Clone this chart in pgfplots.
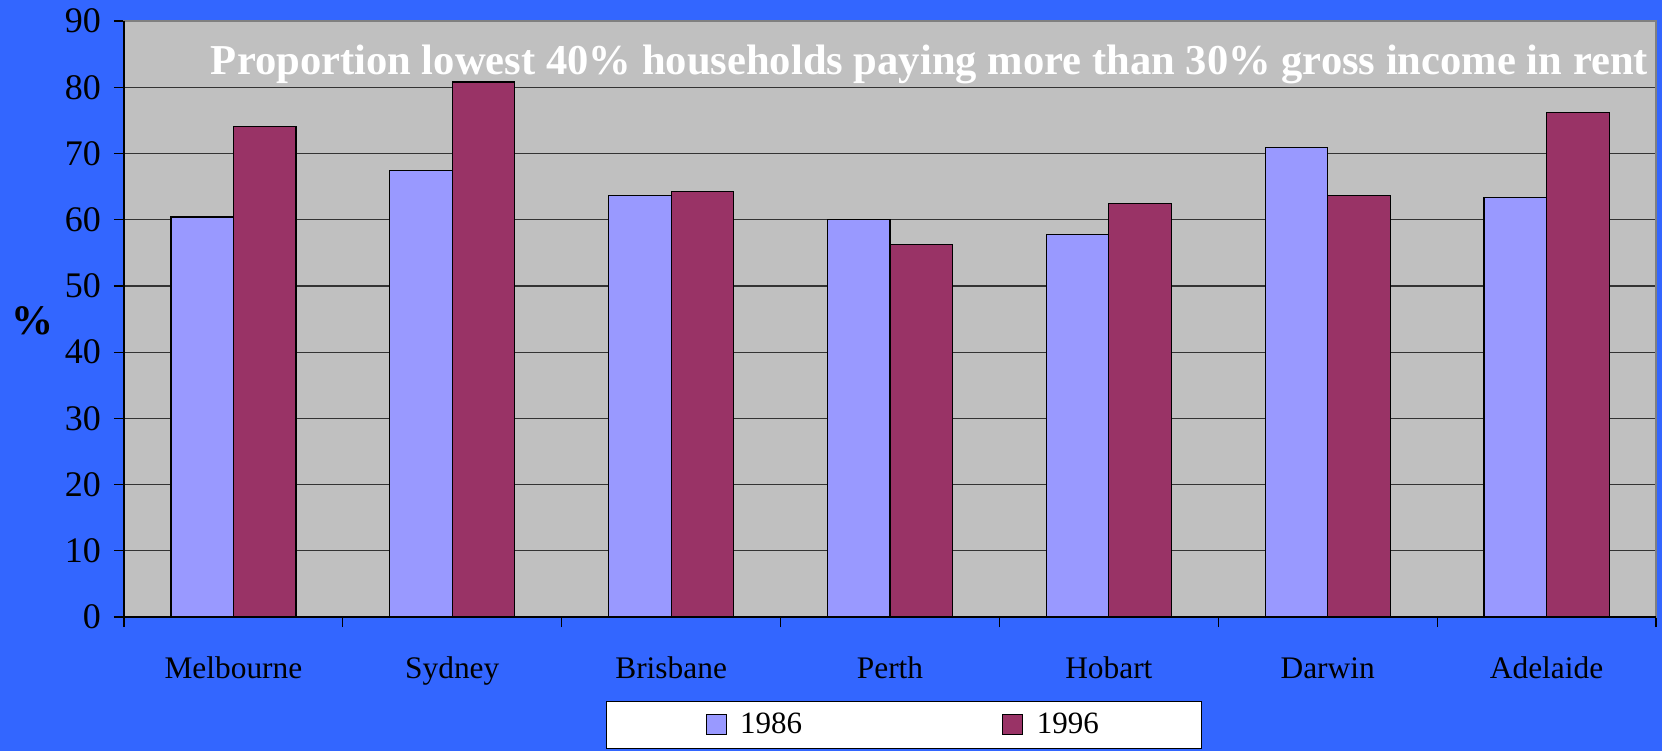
\documentclass[border=0pt]{standalone}
\usepackage{pgfplots}
\pgfplotsset{compat=1.18}
\usepackage{fontspec}
\setmainfont{Liberation Serif}
\definecolor{bgblue}{HTML}{3366FF}
\definecolor{plotgray}{HTML}{C0C0C0}
\definecolor{barA}{HTML}{9999FF}
\definecolor{barB}{HTML}{993366}
\pgfplotsset{sqlegend/.style={legend image code/.code={\draw[##1] (0pt,-5pt) rectangle (10pt,5pt);}}}
\begin{document}
\begin{tikzpicture}
\useasboundingbox (0,0) rectangle (831pt,375.5pt);
\fill[bgblue] (0,0) rectangle (831pt,375.5pt);
\begin{axis}[
  at={(62pt,67pt)}, anchor=south west,
  scale only axis, width=766pt, height=298pt,
  xmin=-0.5, xmax=6.5, ymin=0, ymax=90,
  clip=false,
  ybar=0pt, bar width=0.2857,
  axis background/.style={fill=plotgray},
  axis line style={draw=black!50, line width=0.6pt},
  ytick={0,10,...,90},
  ymajorgrids, grid style={black!80, line width=0.6pt},
  xtick={-0.5,0.5,...,6.5}, xticklabels={},
  extra x ticks={0,1,2,3,4,5,6},
  extra x tick labels={Melbourne,Sydney,Brisbane,Perth,Hobart,Darwin,Adelaide},
  extra x tick style={major tick length=0pt, grid=none, tick label style={anchor=base, yshift=-30.5pt}},
  xtick pos=bottom, ytick pos=left,
  tick align=outside, major tick length=5pt,
  tick style={black, line width=0.6pt},
  xticklabel style={font=\fontsize{15.7}{18}\selectfont, black},
  yticklabel style={font=\fontsize{18}{20}\selectfont, black, anchor=east, xshift=-3pt},
  /pgf/number format/assume math mode=true,
  legend style={at={(0.3146,-0.2215)}, anchor=south west, legend columns=2,
    draw=black, fill=white, line width=0.6pt, inner xsep=49.5pt, inner ysep=3.9pt,
    font=\fontsize{15.5}{18}\selectfont,
    /tikz/every odd column/.append style={column sep=4.7pt},
    /tikz/every even column/.append style={column sep=98pt}},
]
\addplot[fill=barA, draw=black, line width=0.6pt, sqlegend]
  coordinates {(0,60.4) (1,67.4) (2,63.7) (3,60.0) (4,57.8) (5,70.9) (6,63.4)};
\addplot[fill=barB, draw=black, line width=0.6pt, sqlegend]
  coordinates {(0,74.1) (1,80.8) (2,64.2) (3,56.2) (4,62.4) (5,63.7) (6,76.2)};
\legend{1986,1996}
\draw[black, line width=0.6pt] (rel axis cs:0,1) -- (rel axis cs:0,0) -- (rel axis cs:1,0);
\node[anchor=base, text=white, font=\bfseries\fontsize{21.3}{24}\selectfont] at (axis description cs:0.5258,0.911) {Proportion lowest 40\% households paying more than 30\% gross income in rent};
\node[font=\bfseries\fontsize{21}{24}\selectfont] at (axis description cs:-0.060,0.497) {\%};
\end{axis}
\end{tikzpicture}
\end{document}
